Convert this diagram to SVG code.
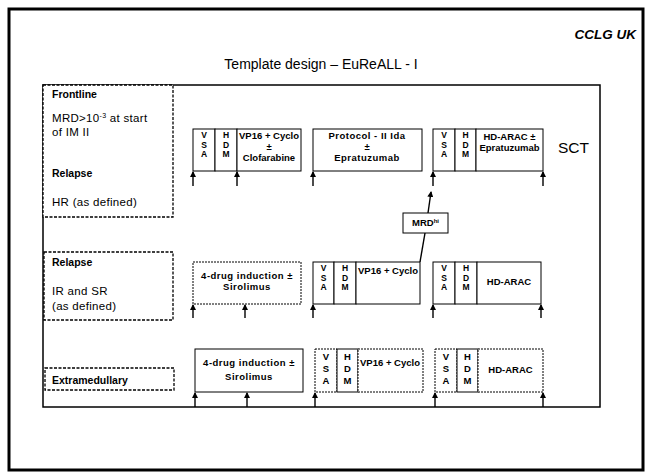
<svg xmlns="http://www.w3.org/2000/svg" width="650" height="474" viewBox="0 0 650 474">
<defs>
<style>
.frame{fill:none;stroke:#000;stroke-width:3}
.main{fill:none;stroke:#000;stroke-width:1.5}
.lbl{fill:#fff;stroke:#000;stroke-width:1.3;stroke-dasharray:3 1.5}
.bx{fill:#fff;stroke:#000;stroke-width:1}
.dbx{fill:#fff;stroke:#000;stroke-width:1;stroke-dasharray:2 1}
.t{font-family:"Liberation Sans",Arial,sans-serif;fill:#000}
.h{font-size:10.5px;font-weight:bold}
.n{font-size:11.5px;letter-spacing:0.3px}
.s{font-size:9.5px;font-weight:bold;text-anchor:middle}
.v{font-size:8.5px;font-weight:bold;text-anchor:middle}
.w{letter-spacing:0.5px}
.conn line{stroke:#000;stroke-width:1.4;marker-end:url(#ah)}
</style>
<marker id="ah" markerWidth="6" markerHeight="6" refX="5" refY="3" orient="auto" markerUnits="userSpaceOnUse">
<path d="M0,0 L6,3 L0,6 z" fill="#000"/>
</marker>
</defs>
<rect width="650" height="474" fill="#fff"/>
<rect class="frame" x="9" y="9" width="634" height="461"/>
<text class="t" x="636" y="39" font-size="13.5" font-weight="bold" font-style="italic" text-anchor="end">CCLG UK</text>
<text class="t" x="321" y="69" font-size="14" text-anchor="middle">Template design – EuReALL - I</text>
<rect class="main" x="43" y="85" width="557" height="322"/>

<g id="label-frontline">
<rect class="lbl" x="43" y="85" width="130" height="132"/>
<text class="t h" x="52" y="98">Frontline</text>
<text class="t n" x="52" y="122">MRD&gt;10<tspan font-size="7" dy="-4">-3</tspan><tspan dy="4"> at start</tspan></text>
<text class="t n" x="52" y="136">of IM II</text>
<text class="t h" x="52" y="177">Relapse</text>
<text class="t n" x="52" y="206">HR (as defined)</text>
</g>
<g id="label-relapse-ir">
<rect class="lbl" x="44" y="252" width="129" height="68"/>
<text class="t h" x="52" y="266">Relapse</text>
<text class="t n" x="52" y="295">IR and SR</text>
<text class="t n" x="52" y="310">(as defined)</text>
</g>
<g id="label-extramedullary">
<rect class="lbl" x="45" y="368" width="129" height="22"/>
<text class="t h" x="52" y="384" font-size="11.5">Extramedullary</text>
</g>

<!-- Row 1 -->
<g id="r1-vsa1"><rect class="bx" x="193" y="129" width="22" height="42"/>
<text class="t v" x="204" y="138">V</text><text class="t v" x="204" y="147.5">S</text><text class="t v" x="204" y="157">A</text></g>
<g id="r1-hdm1"><rect class="bx" x="215" y="129" width="22" height="42"/>
<text class="t v" x="226" y="138">H</text><text class="t v" x="226" y="147.5">D</text><text class="t v" x="226" y="157">M</text></g>
<g id="r1-vp16"><rect class="bx" x="237" y="129" width="64" height="42"/>
<text class="t s" x="269" y="139">VP16 + Cyclo</text><text class="t s" x="269" y="150">±</text><text class="t s" x="269" y="161">Clofarabine</text></g>
<g id="r1-protocol"><rect class="bx" x="313" y="129" width="109" height="42"/>
<text class="t s w" x="367" y="139">Protocol - II Ida</text><text class="t s" x="367" y="150">±</text><text class="t s w" x="367" y="161">Epratuzumab</text></g>
<g id="r1-vsa2"><rect class="bx" x="433" y="129" width="22" height="42"/>
<text class="t v" x="444" y="138">V</text><text class="t v" x="444" y="147.5">S</text><text class="t v" x="444" y="157">A</text></g>
<g id="r1-hdm2"><rect class="bx" x="455" y="129" width="21" height="42"/>
<text class="t v" x="465.5" y="138">H</text><text class="t v" x="465.5" y="147.5">D</text><text class="t v" x="465.5" y="157">M</text></g>
<g id="r1-hdarac"><rect class="bx" x="476" y="129" width="67" height="42"/>
<text class="t s" x="509.5" y="140">HD-ARAC ±</text><text class="t s" x="509.5" y="151">Epratuzumab</text></g>
<g id="sct"><text class="t" x="558" y="153" font-size="15.5">SCT</text></g>

<!-- MRD -->
<g id="mrd"><rect class="bx" x="403" y="213" width="45" height="20"/>
<text class="t s" x="425.5" y="226">MRD<tspan font-size="6" dy="-3">hi</tspan></text></g>

<!-- Row 2 -->
<g id="r2-4drug"><rect class="dbx" x="193" y="262" width="108" height="42"/>
<text class="t s w" x="247" y="279">4-drug induction  ±</text><text class="t s w" x="247" y="290">Sirolimus</text></g>
<g id="r2-vsa1"><rect class="bx" x="313" y="262" width="21" height="42"/>
<text class="t v" x="323.5" y="271">V</text><text class="t v" x="323.5" y="280.5">S</text><text class="t v" x="323.5" y="290">A</text></g>
<g id="r2-hdm1"><rect class="bx" x="334" y="262" width="22" height="42"/>
<text class="t v" x="345" y="271">H</text><text class="t v" x="345" y="280.5">D</text><text class="t v" x="345" y="290">M</text></g>
<g id="r2-vp16"><rect class="bx" x="356" y="262" width="64" height="42"/>
<text class="t s" x="388" y="274">VP16 + Cyclo</text></g>
<g id="r2-vsa2"><rect class="bx" x="433" y="262" width="22" height="42"/>
<text class="t v" x="444" y="271">V</text><text class="t v" x="444" y="280.5">S</text><text class="t v" x="444" y="290">A</text></g>
<g id="r2-hdm2"><rect class="bx" x="455" y="262" width="22" height="42"/>
<text class="t v" x="466" y="271">H</text><text class="t v" x="466" y="280.5">D</text><text class="t v" x="466" y="290">M</text></g>
<g id="r2-hdarac"><rect class="bx" x="477" y="262" width="64" height="42"/>
<text class="t s" x="509" y="285">HD-ARAC</text></g>

<!-- Row 3 -->
<g id="r3-4drug"><rect class="bx" x="195" y="349" width="108" height="43"/>
<text class="t s w" x="249" y="366">4-drug induction  ±</text><text class="t s w" x="249" y="380">Sirolimus</text></g>
<g id="r3-vsa1"><rect class="dbx" x="315" y="349" width="22" height="43"/>
<text class="t s" x="326" y="360">V</text><text class="t s" x="326" y="372">S</text><text class="t s" x="326" y="384">A</text></g>
<g id="r3-hdm1"><rect class="bx" x="337" y="349" width="21" height="43"/>
<text class="t s" x="347.5" y="360">H</text><text class="t s" x="347.5" y="372">D</text><text class="t s" x="347.5" y="384">M</text></g>
<g id="r3-vp16"><rect class="dbx" x="358" y="349" width="65" height="43"/>
<text class="t s" x="390" y="366">VP16 + Cyclo</text></g>
<g id="r3-vsa2"><rect class="dbx" x="435" y="349" width="22" height="43"/>
<text class="t s" x="446" y="360">V</text><text class="t s" x="446" y="372">S</text><text class="t s" x="446" y="384">A</text></g>
<g id="r3-hdm2"><rect class="bx" x="457" y="349" width="21" height="43"/>
<text class="t s" x="467.5" y="360">H</text><text class="t s" x="467.5" y="372">D</text><text class="t s" x="467.5" y="384">M</text></g>
<g id="r3-hdarac"><rect class="dbx" x="478" y="349" width="65" height="43"/>
<text class="t s" x="510.5" y="373">HD-ARAC</text></g>

<g id="connectors" class="conn">
<line x1="193" y1="186" x2="193" y2="172"/>
<line x1="237" y1="186" x2="237" y2="172"/>
<line x1="313" y1="186" x2="313" y2="172"/>
<line x1="433" y1="186" x2="433" y2="172"/>
<line x1="543" y1="186" x2="543" y2="172"/>
<line x1="193" y1="318" x2="193" y2="305"/>
<line x1="245" y1="318" x2="245" y2="305"/>
<line x1="313" y1="318" x2="313" y2="305"/>
<line x1="433" y1="318" x2="433" y2="305"/>
<line x1="541" y1="318" x2="541" y2="305"/>
<line x1="195" y1="407" x2="195" y2="393"/>
<line x1="247" y1="407" x2="247" y2="393"/>
<line x1="315" y1="407" x2="315" y2="393"/>
<line x1="435" y1="407" x2="435" y2="393"/>
<line x1="543" y1="407" x2="543" y2="393"/>
<line x1="420" y1="262" x2="425" y2="233" style="marker-end:none"/>
<line x1="428" y1="213" x2="431" y2="192"/>
</g>
</svg>
